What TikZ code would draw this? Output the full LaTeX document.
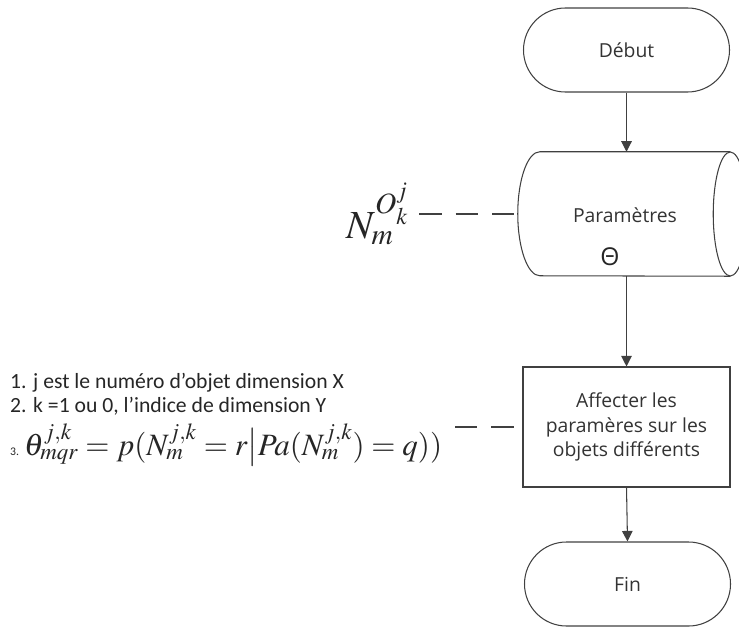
\documentclass[tikz,border=0pt]{standalone}
\usepackage{mathptmx}
\usepackage{fontspec}
\setmainfont{Carlito}
\newfontfamily\boxfont{Open Sans}
\usetikzlibrary{arrows.meta}

\tikzset{
  flow/.style={draw=black!75, line width=0.9pt},
  boxtext/.style={font=\boxfont\fontsize{16.5}{21}\selectfont, text=black!80},
  terminal/.style={flow, boxtext, rectangle, rounded corners=1.26cm,
    minimum width=6.18cm, minimum height=2.52cm},
  process/.style={flow, boxtext, rectangle, align=center,
    minimum width=6.21cm, minimum height=3.6cm},
  drum/.style={rectangle, inner sep=0pt, minimum width=5.7cm, minimum height=3.72cm},
  arrow/.style={flow, -{Triangle[width=9pt,length=9pt]}},
  link/.style={draw=black!75, line width=0.9pt, dash pattern=on 19pt off 12pt},
  note/.style={anchor=base west, inner sep=0pt, font=\fontsize{18.5}{22}\selectfont, text=black!85}
}

\begin{document}
\begin{tikzpicture}[x=0.03cm, y=-0.03cm]
  \useasboundingbox (0,0) rectangle (739,628);

  % Flowchart on the right
  \node[terminal] (debut) at (626.5,50) {Début};
  \node[drum] (param) at (635,214) {};
  \draw[flow] (param.north east) -- (param.north west)
    arc[start angle=90, end angle=270, x radius=0.66cm, y radius=1.86cm]
    -- (param.south east);
  \draw[flow] (param.east) ellipse[x radius=0.51cm, y radius=1.86cm];
  \coordinate (pleft) at ([xshift=-0.66cm]param.west);
  \node[boxtext] (ptitle) at (625,215) {Paramètres};
  \node[boxtext, font=\boxfont\fontsize{21}{24}\selectfont, text=black!85] (theta) at (610,257) {Θ};
  \node[process] (affect) at (626.5,427) {Affecter les\\paramères sur les\\objets différents};
  \node[terminal] (fin) at (627.5,584) {Fin};

  % Arrows between the steps
  \draw[arrow] (debut.south) -- (debut.south |- param.north);
  \draw[arrow] (param.south -| affect.north) -- (affect.north);
  \draw[arrow] (affect.south) -- (fin.north);

  % Label of the parameters
  \node[anchor=east, font=\fontsize{34}{38}\selectfont, text=black!85, inner sep=1pt] (nlab) at (410,214) {$N_m^{O_k^j}$};
  \draw[link, shorten <=8pt, shorten >=3pt] (nlab.east |- pleft) -- (pleft);

  % Notes on the left
  \node[note] (n1) at (10,388) {1. j est le numéro d'objet dimension X};
  \node[note] (n2) at (10,412) {2. k =1 ou 0, l'indice de dimension Y};
  \node[note, font=\fontsize{10}{12}\selectfont] (n3) at (10,455) {3.};
  \node[note, font=\fontsize{26.5}{30}\selectfont] (formula) at (24,455)
    {$\theta^{j,k}_{mqr} = p(N^{j,k}_m = r\big|Pa(N^{j,k}_m)=q))$};
  \coordinate (nt) at (455,427);
  \draw[link, shorten >=4pt] (nt) -- (affect.west);
\end{tikzpicture}
\end{document}
